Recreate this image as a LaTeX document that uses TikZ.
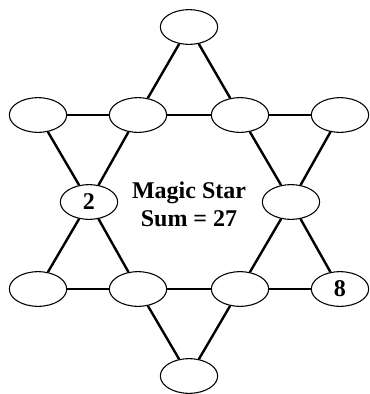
\documentclass[tikz,border=0pt]{standalone}
\usepackage{fontspec}
\setmainfont{Liberation Serif}
\usetikzlibrary{shapes.geometric}

\begin{document}
\begin{tikzpicture}[x=0.75pt,y=-0.75pt,
  spot/.style={ellipse,draw,line width=0.8pt,minimum width=43pt,minimum height=26pt,
    inner sep=0pt,font=\fontsize{18}{21}\selectfont\bfseries},
  link/.style={line width=1.8pt}]
\useasboundingbox (0,0) rectangle (370,394);
% points of the star
\node[spot] (t) at (189,27) {};
\node[spot] (u1) at (38,115) {};
\node[spot] (u2) at (138,115) {};
\node[spot] (u3) at (240,115) {};
\node[spot] (u4) at (340,115) {};
\node[spot] (ml) at (89,202) {2};
\node[spot] (mr) at (291,202) {};
\node[spot] (l1) at (38,289) {};
\node[spot] (l2) at (138,289) {};
\node[spot] (l3) at (240,289) {};
\node[spot] (l4) at (340,289) {8};
\node[spot] (b) at (189,376) {};
\node[align=center,font=\fontsize{18}{21}\selectfont\bfseries] (title) at (189,204) {Magic Star\\Sum = 27};
% lines
\foreach \a/\b in {t/u2,t/u3,u1/u2,u2/u3,u3/u4,u1/ml,u2/ml,u3/mr,u4/mr,
  ml/l1,ml/l2,mr/l3,mr/l4,l1/l2,l2/l3,l3/l4,l2/b,l3/b}
  \draw[link] (\a) -- (\b);
\end{tikzpicture}
\end{document}
